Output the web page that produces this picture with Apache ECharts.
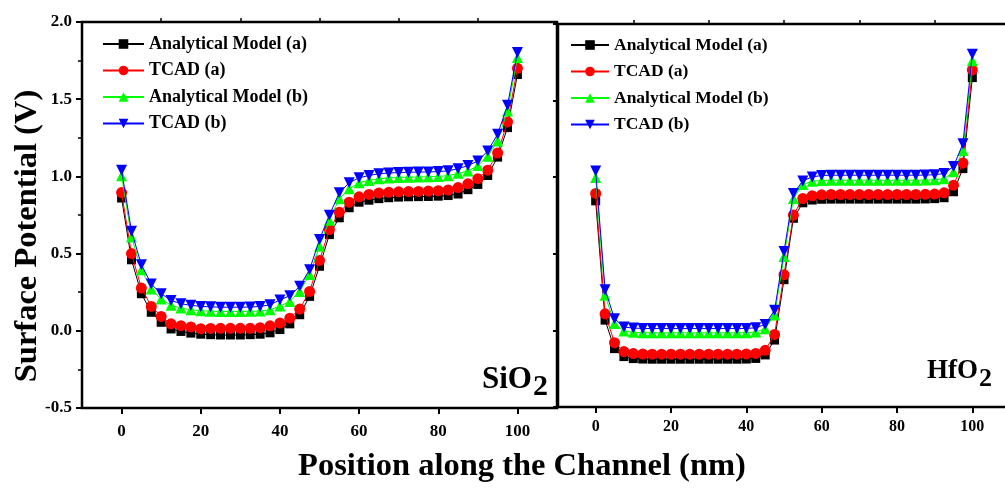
<!DOCTYPE html>
<html>
<head>
<meta charset="utf-8">
<script src="https://cdn.jsdelivr.net/npm/echarts@6/dist/echarts.min.js"></script>
<style>
  html, body { margin: 0; padding: 0; background: #fff; }
  #chart { width: 1005px; height: 489px; }
</style>
</head>
<body>
<div id="chart"></div>
<script>
// Channel positions (nm)
const positions = [0, 2.5, 5, 7.5, 10, 12.5, 15, 17.5, 20, 22.5, 25, 27.5, 30, 32.5, 35, 37.5, 40,
  42.5, 45, 47.5, 50, 52.5, 55, 57.5, 60, 62.5, 65, 67.5, 70, 72.5, 75, 77.5, 80, 82.5, 85, 87.5,
  90, 92.5, 95, 97.5, 100];

const seriesNames = ['Analytical Model (a)', 'TCAD (a)', 'Analytical Model (b)', 'TCAD (b)'];

// SiO2 gate dielectric: surface potential (V)
const sio2ModelA = [0.86, 0.46, 0.24, 0.12, 0.055, 0.012, -0.004, -0.015, -0.022, -0.025, -0.027,
  -0.027, -0.027, -0.025, -0.022, -0.013, 0.008, 0.045, 0.104, 0.223, 0.418, 0.623, 0.732, 0.797,
  0.833, 0.846, 0.856, 0.862, 0.866, 0.868, 0.869, 0.870, 0.872, 0.876, 0.886, 0.914, 0.948, 1.006,
  1.125, 1.316, 1.66];
const sio2TcadA = [0.895, 0.50, 0.277, 0.158, 0.093, 0.045, 0.033, 0.025, 0.014, 0.015, 0.016,
  0.016, 0.016, 0.016, 0.020, 0.032, 0.050, 0.082, 0.141, 0.255, 0.456, 0.656, 0.768, 0.833, 0.868,
  0.883, 0.892, 0.897, 0.900, 0.902, 0.903, 0.905, 0.907, 0.912, 0.928, 0.952, 0.985, 1.040, 1.152,
  1.353, 1.70];
const sio2ModelB = [1.005, 0.608, 0.396, 0.27, 0.206, 0.165, 0.147, 0.136, 0.130, 0.127, 0.125,
  0.125, 0.125, 0.126, 0.128, 0.136, 0.160, 0.190, 0.255, 0.364, 0.547, 0.716, 0.855, 0.920, 0.959,
  0.974, 0.985, 0.990, 0.993, 0.995, 0.996, 0.998, 1.000, 1.005, 1.020, 1.035, 1.070, 1.130, 1.229,
  1.424, 1.77];
const sio2TcadB = [1.04, 0.645, 0.428, 0.303, 0.24, 0.197, 0.175, 0.165, 0.158, 0.155, 0.153,
  0.153, 0.153, 0.154, 0.158, 0.168, 0.200, 0.227, 0.288, 0.396, 0.591, 0.749, 0.894, 0.959, 0.991,
  1.006, 1.017, 1.022, 1.025, 1.027, 1.028, 1.029, 1.031, 1.036, 1.050, 1.070, 1.100, 1.165, 1.273,
  1.461, 1.803];

// HfO2 gate dielectric: surface potential (V)
const hfo2ModelA = [0.846, 0.067, -0.119, -0.171, -0.184, -0.187, -0.188, -0.188, -0.188, -0.188,
  -0.188, -0.188, -0.188, -0.188, -0.188, -0.188, -0.187, -0.183, -0.160, -0.063, 0.331, 0.732,
  0.833, 0.851, 0.856, 0.857, 0.857, 0.857, 0.857, 0.857, 0.857, 0.857, 0.857, 0.857, 0.857, 0.858,
  0.860, 0.866, 0.905, 1.056, 1.65];
const hfo2TcadA = [0.894, 0.108, -0.080, -0.138, -0.151, -0.154, -0.155, -0.155, -0.155, -0.155,
  -0.155, -0.155, -0.155, -0.155, -0.155, -0.155, -0.154, -0.150, -0.130, -0.026, 0.364, 0.753,
  0.861, 0.879, 0.885, 0.887, 0.887, 0.887, 0.887, 0.887, 0.887, 0.887, 0.887, 0.887, 0.887, 0.888,
  0.890, 0.898, 0.948, 1.093, 1.70];
const hfo2ModelB = [0.998, 0.229, 0.045, -0.004, -0.012, -0.015, -0.016, -0.016, -0.016, -0.016,
  -0.016, -0.016, -0.016, -0.016, -0.016, -0.016, -0.015, -0.011, 0.011, 0.100, 0.483, 0.861,
  0.952, 0.974, 0.979, 0.980, 0.980, 0.980, 0.980, 0.980, 0.980, 0.980, 0.980, 0.980, 0.980, 0.981,
  0.983, 0.990, 1.035, 1.175, 1.76];
const hfo2TcadB = [1.040, 0.266, 0.076, 0.022, 0.015, 0.013, 0.012, 0.012, 0.012, 0.012,
  0.012, 0.012, 0.012, 0.012, 0.012, 0.012, 0.013, 0.017, 0.039, 0.132, 0.515, 0.894,
  0.976, 1.002, 1.011, 1.013, 1.013, 1.013, 1.013, 1.013, 1.013, 1.013, 1.013, 1.013, 1.013, 1.014,
  1.016, 1.024, 1.070, 1.219, 1.803];

const xMajorTicks = [0, 20, 40, 60, 80, 100];
const xMinorTicks = [10, 30, 50, 70, 90];

const FONT = '"Liberation Serif", "Times New Roman", serif';
const colors = ['#000000', '#ff0000', '#00ff00', '#0000ff'];
const symbols = ['rect', 'circle', 'triangle', 'triangle'];
const symbolSizes = [9, 11, 11, 11];
const symbolRotates = [0, 0, 0, 180];

const sio2Sets = [sio2ModelA, sio2TcadA, sio2ModelB, sio2TcadB];
const hfo2Sets = [hfo2ModelA, hfo2TcadA, hfo2ModelB, hfo2TcadB];

function pairs(vals) {
  return positions.map((x, i) => [x, vals[i]]);
}

function makeSeries(sets, axisIndex) {
  return sets.map((vals, k) => ({
    name: seriesNames[k],
    type: 'line',
    xAxisIndex: axisIndex * 2,
    yAxisIndex: axisIndex,
    data: pairs(vals),
    symbol: symbols[k],
    symbolSize: symbolSizes[k],
    symbolRotate: symbolRotates[k],
    showAllSymbol: true,
    color: colors[k],
    lineStyle: { width: 1, color: colors[k] },
    itemStyle: { color: colors[k] },
    animation: false,
    z: 2 + k
  }));
}

function majorX(gridIndex, labelSize, margin) {
  return {
    type: 'value', gridIndex, min: -10, max: 110, interval: 10,
    splitLine: { show: false },
    axisLine: { show: true, onZero: false, lineStyle: { color: '#000', width: 2 } },
    axisTick: { show: true, inside: false, length: 6, customValues: xMajorTicks,
      lineStyle: { color: '#000', width: 2 } },
    axisLabel: { show: true, customValues: xMajorTicks, margin,
      fontFamily: FONT, fontWeight: 'bold', fontSize: labelSize, color: '#000' }
  };
}

function minorX(gridIndex) {
  return {
    type: 'value', gridIndex, min: -10, max: 110, interval: 10,
    splitLine: { show: false },
    axisLine: { show: false, onZero: false },
    axisTick: { show: true, inside: false, length: 4, customValues: xMinorTicks,
      lineStyle: { color: '#000', width: 1.5 } },
    axisLabel: { show: false }
  };
}

function legendFor(left, top, itemWidth, fontSize, itemGap) {
  return {
    orient: 'vertical', left, top,
    itemWidth, itemHeight: 12, itemGap,
    data: seriesNames,
    textStyle: { fontFamily: FONT, fontWeight: 'bold', fontSize, color: '#000' },
    selectedMode: false
  };
}

const chart = echarts.init(document.getElementById('chart'), null, { renderer: 'canvas' });

chart.setOption({
  backgroundColor: '#fff',
  animation: false,
  grid: [
    { left: 82, top: 22, width: 475, height: 386, show: true, borderColor: '#000', borderWidth: 2.5,
      backgroundColor: 'transparent', outerBoundsMode: 'none', containLabel: false },
    { left: 558, top: 24, width: 452, height: 383, show: true, borderColor: '#000', borderWidth: 2.5,
      backgroundColor: 'transparent', outerBoundsMode: 'none', containLabel: false }
  ],
  xAxis: [
    majorX(0, 17, 15), minorX(0),
    majorX(1, 16, 12), minorX(1)
  ],
  yAxis: [
    {
      type: 'value', gridIndex: 0, min: -0.5, max: 2.0, interval: 0.5,
      splitLine: { show: false },
      axisLine: { show: true, onZero: false, lineStyle: { color: '#000', width: 2 } },
      axisTick: { show: true, inside: false, length: 6, lineStyle: { color: '#000', width: 2 } },
      minorTick: { show: true, splitNumber: 2, length: 4, lineStyle: { color: '#000', width: 1.5 } },
      axisLabel: { margin: 10, formatter: v => v.toFixed(1),
        fontFamily: FONT, fontWeight: 'bold', fontSize: 17, color: '#000' }
    },
    {
      type: 'value', gridIndex: 1, min: -0.5, max: 2.0, interval: 0.5,
      splitLine: { show: false },
      axisLine: { show: true, onZero: false, lineStyle: { color: '#000', width: 2 } },
      axisTick: { show: true, inside: false, length: 5, lineStyle: { color: '#000', width: 2 } },
      axisLabel: { show: false }
    }
  ],
  legend: [legendFor(97, 30, 41, 18, 8.5), legendFor(565, 31, 38, 17.5, 8.5)],
  series: [...makeSeries(sio2Sets, 0), ...makeSeries(hfo2Sets, 1)],
  graphic: [
    { type: 'text', left: 482, top: 364, style: { text: 'SiO', fontFamily: FONT, fontWeight: 'bold',
      fontSize: 31, fill: '#000' } },
    { type: 'text', left: 533, top: 372, style: { text: '2', fontFamily: FONT, fontWeight: 'bold',
      fontSize: 30, fill: '#000' } },
    { type: 'text', left: 927, top: 358, style: { text: 'HfO', fontFamily: FONT, fontWeight: 'bold',
      fontSize: 27, fill: '#000' } },
    { type: 'text', left: 979, top: 366, style: { text: '2', fontFamily: FONT, fontWeight: 'bold',
      fontSize: 26, fill: '#000' } },
    { type: 'text', x: 28, y: 236, rotation: Math.PI / 2,
      style: { text: 'Surface Potential (V)', fontFamily: FONT, fontWeight: 'bold', fontSize: 32.5,
        fill: '#000', align: 'center', verticalAlign: 'middle' } },
    { type: 'text', x: 522, y: 467,
      style: { text: 'Position along the Channel (nm)', fontFamily: FONT, fontWeight: 'bold',
        fontSize: 32.5, fill: '#000', align: 'center', verticalAlign: 'middle' } }
  ]
});
</script>
</body>
</html>
